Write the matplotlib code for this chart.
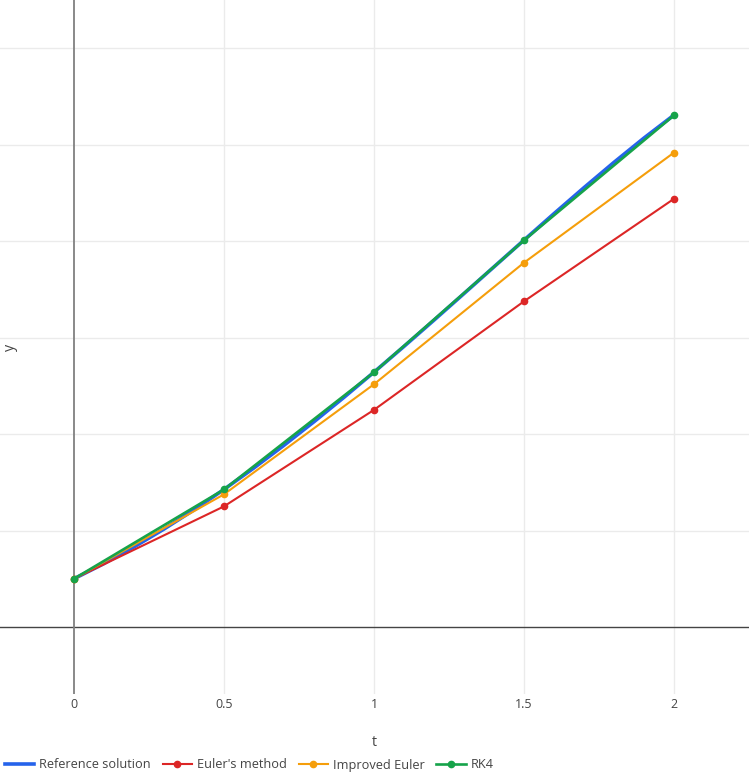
import matplotlib
matplotlib.use("Agg")
import matplotlib.pyplot as plt

plt.rcParams['font.family'] = ['Open Sans', 'DejaVu Sans']

# Reference (exact) solution samples
t_ref = [0.0, 0.1, 0.2, 0.3, 0.4, 0.5, 0.6, 0.7, 0.8, 0.9, 1.0,
         1.1, 1.2, 1.3, 1.4, 1.5, 1.6, 1.7, 1.8, 1.9, 2.0]
y_ref = [0.5, 0.6574, 0.8293, 1.0151, 1.2141, 1.4256, 1.6489, 1.8831, 2.1272, 2.3802, 2.6409,
         2.9079, 3.1799, 3.4554, 3.7324, 4.0092, 4.2835, 4.5530, 4.8152, 5.0671, 5.3055]

t_num = [0.0, 0.5, 1.0, 1.5, 2.0]
y_euler = [0.5, 1.25, 2.25, 3.375, 4.4375]
y_heun = [0.5, 1.375, 2.5156, 3.7754, 4.9163]
y_rk4 = [0.5, 1.4251, 2.6396, 4.0069, 5.3017]

x_ticks = [0, 0.5, 1, 1.5, 2]
x_tick_labels = ["0", "0.5", "1", "1.5", "2"]
y_grid = [1, 2, 3, 4, 5, 6]

W, H = 749, 780
fig = plt.figure(figsize=(W / 100, H / 100), dpi=100)
ax = fig.add_axes([0, (H - 694) / H, 1, 694 / H])

c_ref = '#2563eb'
c_eul = '#dc2626'
c_heun = '#f59e0b'
c_rk4 = '#16a34a'

ax.plot(t_ref, y_ref, color=c_ref, lw=2.6, zorder=3, label='Reference solution')
ax.plot(t_num, y_euler, color=c_eul, lw=1.5, marker='o', ms=4.5, zorder=4, label="Euler's method")
ax.plot(t_num, y_heun, color=c_heun, lw=1.5, marker='o', ms=4.5, zorder=4, label='Improved Euler')
ax.plot(t_num, y_rk4, color=c_rk4, lw=1.9, marker='o', ms=4.5, zorder=5, label='RK4')

ax.set_xlim(-74 / 300, 675 / 300)
ax.set_ylim(-(694 - 627) / 96.5, 627 / 96.5)

for v in x_ticks[1:]:
    ax.axvline(v, color='#ebebeb', lw=1, zorder=0)
for v in y_grid:
    ax.axhline(v, color='#ebebeb', lw=1, zorder=0)
ax.axhline(0, color='#444444', lw=1, zorder=1)
ax.axvline(0, color='#808080', lw=1.3, zorder=1)

for s in ax.spines.values():
    s.set_visible(False)
ax.set_xticks(x_ticks)
ax.set_xticklabels(x_tick_labels)
ax.set_yticks([])
ax.tick_params(axis='x', length=0, pad=3, labelsize=8.9, labelcolor='#444444')

fig.text(374 / W, 1 - 742 / H, 't', ha='center', va='center', fontsize=10.3, color='#444444')
fig.text(10 / W, 1 - 347 / H, 'y', ha='center', va='center', rotation=90, fontsize=10.3, color='#444444')

handles, labels = ax.get_legend_handles_labels()
leg = fig.legend(handles, labels, loc='center left', bbox_to_anchor=(5 / W, 1 - 765 / H),
                 ncol=4, frameon=False, fontsize=9.2, handlelength=2.3, handletextpad=0.4,
                 columnspacing=0.9, borderaxespad=0, borderpad=0.0)
for txt in leg.get_texts():
    txt.set_color('#444444')

fig.savefig('out.png', dpi=100)
